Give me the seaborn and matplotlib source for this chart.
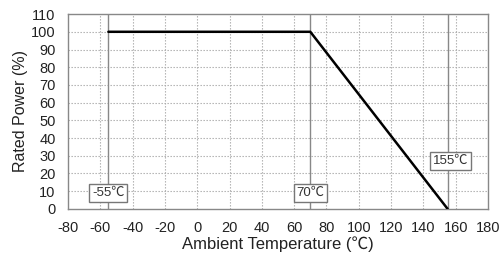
import numpy as np
import pandas as pd
import matplotlib
matplotlib.use("Agg")
import matplotlib.pyplot as plt
import seaborn as sns

# ------------------ Data ------------------
temps = [-55, 70, 155]          # ambient temperature (degC)
rated_power = [100, 100, 0]     # rated power (%)
marker_temps = [-55, 70, 155]   # solid reference lines
marker_labels = ["-55℃", "70℃", "155℃"]
marker_label_x = [-55, 70, 157]
marker_label_y = [9, 9, 27]
x_ticks = list(range(-80, 181, 20))
y_ticks = list(range(0, 111, 10))

df = pd.DataFrame({"temp": temps, "power": rated_power})

# ------------------ Style ------------------
sns.set_style("white")
plt.rcParams["font.family"] = ["Liberation Sans", "Noto Sans CJK JP", "DejaVu Sans"]
plt.rcParams["axes.unicode_minus"] = False

fig = plt.figure(figsize=(5, 2.56), dpi=100)
ax = fig.add_axes([0.136, 0.184, 0.84, 0.761])

# grid (dotted)
for xv in x_ticks[1:-1]:
    ax.axvline(xv, color="#aaaaaa", lw=0.8, ls=(0, (1.2, 1.5)), zorder=1)
for yv in y_ticks[1:-1]:
    ax.axhline(yv, color="#aaaaaa", lw=0.8, ls=(0, (1.2, 1.5)), zorder=1)

# solid temperature markers
for xv in marker_temps:
    ax.axvline(xv, color="#888888", lw=1.0, zorder=2)

sns.lineplot(data=df, x="temp", y="power", color="black", lw=1.8, ax=ax, zorder=4)

for lbl, xv, yv in zip(marker_labels, marker_label_x, marker_label_y):
    ax.text(xv, yv, lbl, ha="center", va="center", fontsize=9.5, color="#333333",
            bbox=dict(boxstyle="square,pad=0.2", fc="white", ec="#777777", lw=1.0), zorder=5)

ax.set_xlim(-80, 180)
ax.set_ylim(0, 110)
ax.set_xticks(x_ticks)
ax.set_yticks(y_ticks)
ax.tick_params(length=0, labelsize=10.5, colors="#222222")
ax.tick_params(axis="x", pad=9)
ax.tick_params(axis="y", pad=9)
for s in ax.spines.values():
    s.set_color("#888888")
    s.set_linewidth(1.0)

ax.set_xlabel("Ambient Temperature (℃)", fontsize=12, color="#222222", labelpad=1)
ax.set_ylabel("Rated Power (%)", fontsize=11.5, color="#222222", labelpad=2)

fig.savefig("out.png", dpi=100)
